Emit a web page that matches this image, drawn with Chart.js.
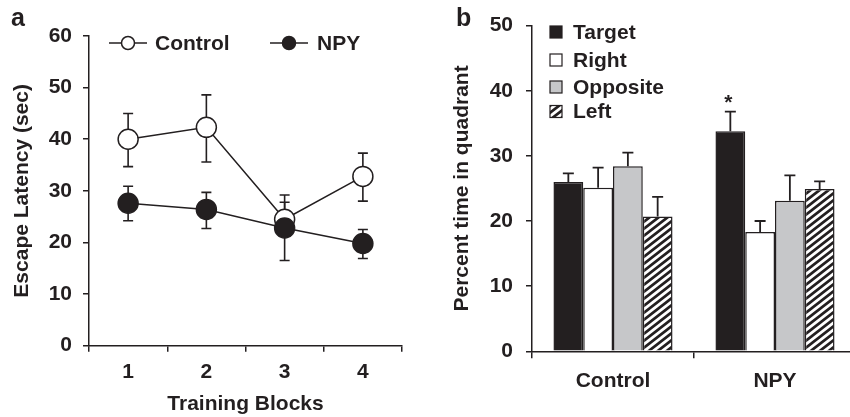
<!DOCTYPE html>
<html>
<head>
<meta charset="utf-8">
<script src="https://cdn.jsdelivr.net/npm/chart.js@4.4.1/dist/chart.umd.min.js"></script>
<style>
  html, body { margin: 0; padding: 0; background: #fff; overflow: hidden; width: 850px; height: 417px; }
  #wrapA { position: absolute; left: 0; top: 0; width: 425px; height: 417px; }
  #wrapB { position: absolute; left: 425px; top: 0; width: 435px; height: 417px; }
</style>
</head>
<body>
<div id="wrapA"><canvas id="chartA"></canvas></div>
<div id="wrapB"><canvas id="chartB"></canvas></div>
<script>
// ---------- Panel a data ----------
const blocks = ['1', '2', '3', '4'];
const controlMean  = [40.0, 42.3, 24.5, 32.8];
const controlUpper = [45.0, 48.6, 29.2, 37.3];
const controlLower = [34.7, 35.6, 21.5, 28.0];
const npyMean  = [27.6, 26.4, 22.8, 19.8];
const npyUpper = [30.9, 29.7, 27.8, 22.5];
const npyLower = [24.2, 22.7, 16.5, 16.9];
const latencyTicks = [0, 10, 20, 30, 40, 50, 60];

// ---------- Panel b data ----------
const groups = ['Control', 'NPY'];
const quadrants = ['Target', 'Right', 'Opposite', 'Left'];
const targetMean   = [26.0, 33.8];
const targetUpper  = [27.3, 36.8];
const rightMean    = [25.1, 18.3];
const rightUpper   = [28.2, 20.0];
const oppositeMean = [28.4, 23.1];
const oppositeUpper= [30.5, 27.0];
const leftMean     = [20.7, 24.9];
const leftUpper    = [23.7, 26.1];
const targetSignif = ['', '*'];
const percentTicks = [0, 10, 20, 30, 40, 50];

const INK = '#231f20';
const FONT = 'Liberation Sans, Arial, Helvetica, sans-serif';
const bold = (size) => ({ family: FONT, size: size, weight: 'bold' });

function hatchPattern() {
  const W = 9, H = 7;
  const c = document.createElement('canvas');
  c.width = W; c.height = H;
  const g = c.getContext('2d');
  g.fillStyle = '#ffffff';
  g.fillRect(0, 0, W, H);
  g.strokeStyle = INK;
  g.lineWidth = 2.7;
  g.beginPath();
  for (let k = -2; k <= 2; k++) {
    g.moveTo(-W, 2 * H + k * H);
    g.lineTo(2 * W, -H + k * H);
  }
  g.stroke();
  return g.createPattern(c, 'repeat');
}
const hatch = hatchPattern();

// ---------- plugins ----------
const lineErrorBars = {
  id: 'lineErrorBars',
  beforeDatasetsDraw(chart) {
    const ctx = chart.ctx;
    const ys = chart.scales.y;
    ctx.save();
    ctx.strokeStyle = INK;
    ctx.lineWidth = 1.6;
    chart.data.datasets.forEach((ds, di) => {
      const meta = chart.getDatasetMeta(di);
      meta.data.forEach((pt, i) => {
        const yU = ys.getPixelForValue(ds.errUpper[i]);
        const yL = ys.getPixelForValue(ds.errLower[i]);
        const x = pt.x, w = 5;
        ctx.beginPath();
        ctx.moveTo(x, yU); ctx.lineTo(x, yL);
        ctx.moveTo(x - w, yU); ctx.lineTo(x + w, yU);
        ctx.moveTo(x - w, yL); ctx.lineTo(x + w, yL);
        ctx.stroke();
      });
    });
    ctx.restore();
  }
};

const lineLegend = {
  id: 'lineLegend',
  afterDraw(chart) {
    const ctx = chart.ctx;
    const spots = [{ x1: 109, x2: 147, cx: 128, tx: 155 }, { x1: 270, x2: 308, cx: 289, tx: 317 }];
    const y = 43;
    ctx.save();
    chart.data.datasets.forEach((ds, di) => {
      const s = spots[di];
      ctx.strokeStyle = INK; ctx.lineWidth = 1.5;
      ctx.beginPath(); ctx.moveTo(s.x1, y); ctx.lineTo(s.x2, y); ctx.stroke();
      ctx.beginPath(); ctx.arc(s.cx, y, 6.5, 0, Math.PI * 2);
      ctx.fillStyle = ds.pointBackgroundColor; ctx.fill(); ctx.stroke();
      ctx.fillStyle = INK;
      ctx.font = 'bold 21px ' + FONT;
      ctx.textBaseline = 'middle'; ctx.textAlign = 'left';
      ctx.fillText(ds.label, s.tx, y + 1);
    });
    ctx.font = 'bold 25px ' + FONT;
    ctx.fillText('a', 11, 19);
    ctx.restore();
  }
};

const barExtras = {
  id: 'barExtras',
  afterDatasetsDraw(chart) {
    const ctx = chart.ctx;
    const ys = chart.scales.y;
    ctx.save();
    ctx.strokeStyle = INK;
    ctx.lineWidth = 1.8;
    chart.data.datasets.forEach((ds, di) => {
      const meta = chart.getDatasetMeta(di);
      meta.data.forEach((bar, i) => {
        const yU = ys.getPixelForValue(ds.errUpper[i]);
        const x = bar.x, w = 5.5;
        ctx.beginPath();
        ctx.moveTo(x, bar.y); ctx.lineTo(x, yU);
        ctx.moveTo(x - w, yU); ctx.lineTo(x + w, yU);
        ctx.stroke();
        if (ds.signif && ds.signif[i]) {
          ctx.fillStyle = INK;
          ctx.font = 'bold 21px ' + FONT;
          ctx.textAlign = 'center'; ctx.textBaseline = 'middle';
          ctx.fillText(ds.signif[i], x - 2, yU - 8);
        }
      });
    });
    ctx.restore();
  },
  afterDraw(chart) {
    const ctx = chart.ctx;
    const rows = [32, 60, 87, 111.5];
    ctx.save();
    chart.data.datasets.forEach((ds, di) => {
      const y = rows[di];
      ctx.fillStyle = ds.backgroundColor;
      ctx.fillRect(125, y - 6, 12, 12);
      ctx.strokeStyle = INK; ctx.lineWidth = 1.2;
      ctx.strokeRect(125, y - 6, 12, 12);
      ctx.fillStyle = INK;
      ctx.font = 'bold 21px ' + FONT;
      ctx.textBaseline = 'middle'; ctx.textAlign = 'left';
      ctx.fillText(ds.label, 148, y + 1);
    });
    ctx.font = 'bold 25px ' + FONT;
    ctx.fillText('b', 31, 19);
    ctx.restore();
  }
};

const axisCommon = (tickLen) => ({
  grid: { display: true, drawOnChartArea: false, drawTicks: true, tickLength: tickLen, color: INK, lineWidth: 1.5 },
  border: { display: true, color: INK, width: 1.5 }
});

// ---------- Chart a ----------
new Chart(document.getElementById('chartA'), {
  type: 'line',
  data: {
    labels: blocks,
    datasets: [
      {
        label: 'Control', data: controlMean, errUpper: controlUpper, errLower: controlLower,
        borderColor: INK, borderWidth: 1.5, pointRadius: 10, pointBorderWidth: 1.5,
        pointBackgroundColor: '#ffffff', pointBorderColor: INK, order: 2, tension: 0
      },
      {
        label: 'NPY', data: npyMean, errUpper: npyUpper, errLower: npyLower,
        borderColor: INK, borderWidth: 1.5, pointRadius: 10, pointBorderWidth: 1.5,
        pointBackgroundColor: INK, pointBorderColor: INK, order: 1, tension: 0
      }
    ]
  },
  options: {
    responsive: true, maintainAspectRatio: false, animation: false,
    devicePixelRatio: 1,
    layout: { padding: { left: 0, top: 36, right: 23, bottom: 0 } },
    plugins: { legend: { display: false }, tooltip: { enabled: false } },
    scales: {
      x: Object.assign(axisCommon(6), {
        type: 'category', offset: true,
        grid: { display: true, offset: true, drawOnChartArea: false, drawTicks: true, tickLength: 6, color: INK, lineWidth: 1.5 },
        ticks: { color: INK, font: bold(21), padding: 8 },
        title: { display: true, text: 'Training Blocks', color: INK, font: bold(21), padding: { top: 0, bottom: 0 } },
        afterFit: (s) => { s.height = 71.3; }
      }),
      y: Object.assign(axisCommon(6), {
        min: 0, max: 60,
        afterBuildTicks: (s) => { s.ticks = latencyTicks.map(v => ({ value: v })); },
        ticks: { color: INK, font: bold(21), padding: 11 },
        title: { display: true, text: 'Escape Latency (sec)', color: INK, font: bold(21), padding: { top: 9.4, bottom: 0 } },
        afterFit: (s) => { s.width = 89; }
      })
    }
  },
  plugins: [lineErrorBars, lineLegend]
});

// ---------- Chart b ----------
const barBase = { borderColor: INK, borderWidth: 1.5, borderSkipped: 'bottom', categoryPercentage: 0.735, barPercentage: 1.0 };
new Chart(document.getElementById('chartB'), {
  type: 'bar',
  data: {
    labels: groups,
    datasets: [
      Object.assign({ label: quadrants[0], data: targetMean, errUpper: targetUpper, signif: targetSignif, backgroundColor: INK }, barBase),
      Object.assign({ label: quadrants[1], data: rightMean, errUpper: rightUpper, backgroundColor: '#ffffff' }, barBase),
      Object.assign({ label: quadrants[2], data: oppositeMean, errUpper: oppositeUpper, backgroundColor: '#c6c7c9' }, barBase),
      Object.assign({ label: quadrants[3], data: leftMean, errUpper: leftUpper, backgroundColor: hatch }, barBase)
    ]
  },
  options: {
    responsive: true, maintainAspectRatio: false, animation: false,
    devicePixelRatio: 1,
    layout: { padding: { left: 0, top: 24, right: 4, bottom: 0 } },
    plugins: { legend: { display: false }, tooltip: { enabled: false } },
    scales: {
      x: Object.assign(axisCommon(7), {
        type: 'category', offset: true,
        grid: { display: true, offset: true, drawOnChartArea: false, drawTicks: true, tickLength: 7, color: INK, lineWidth: 1.5 },
        ticks: { color: INK, font: bold(21), padding: 10 },
        afterFit: (s) => { s.height = 65.7; }
      }),
      y: Object.assign(axisCommon(6), {
        min: 0, max: 50,
        afterBuildTicks: (s) => { s.ticks = percentTicks.map(v => ({ value: v })); },
        ticks: { color: INK, font: bold(21), padding: 13 },
        title: { display: true, text: 'Percent time in quadrant', color: INK, font: bold(21), padding: { top: 24.4, bottom: 0 } },
        afterFit: (s) => { s.width = 107; }
      })
    }
  },
  plugins: [barExtras]
});
</script>
</body>
</html>
